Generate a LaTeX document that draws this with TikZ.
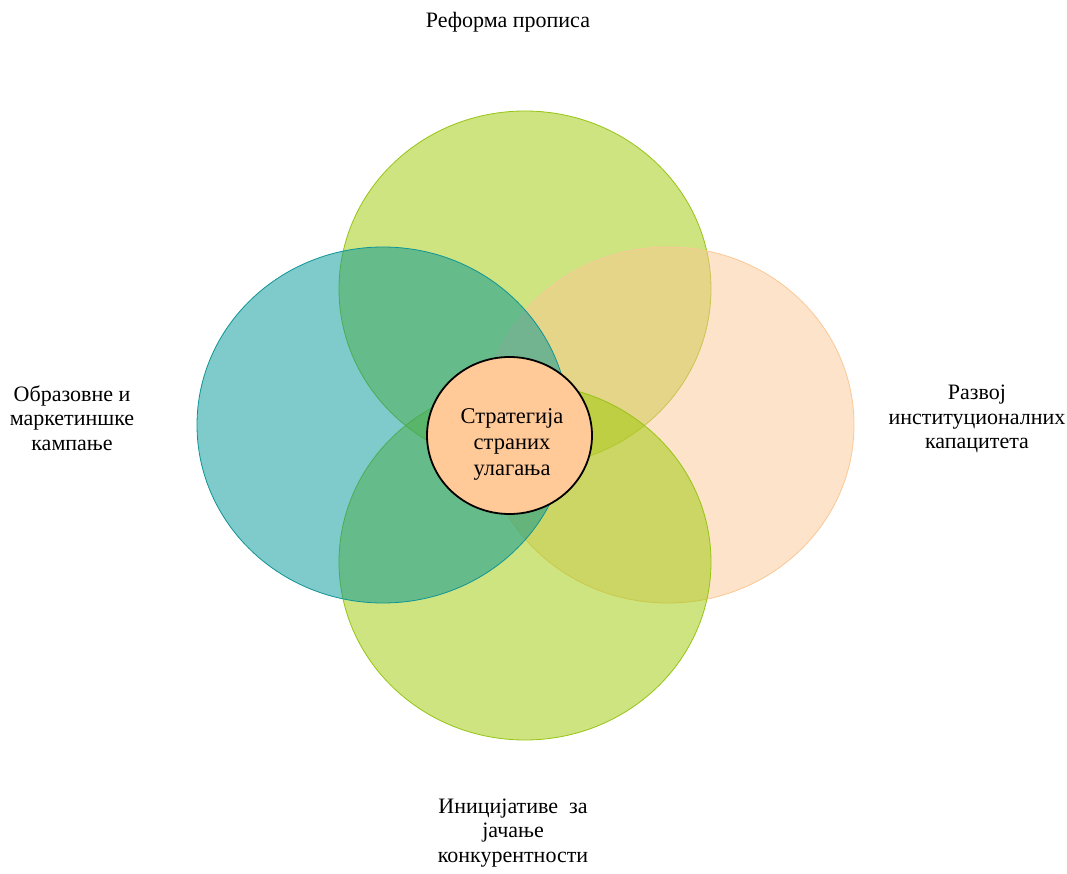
\documentclass[tikz,border=0pt]{standalone}
\usepackage{fontspec}
\setmainfont{Liberation Serif}
\usetikzlibrary{shapes.geometric}

\definecolor{limefill}{RGB}{155,201,1}
\definecolor{limeedge}{RGB}{150,196,20}
\definecolor{tealfill}{RGB}{0,149,149}
\definecolor{tealedge}{RGB}{15,148,150}
\definecolor{peachfill}{RGB}{251,199,147}
\definecolor{peachedge}{RGB}{250,200,150}
\definecolor{corefill}{RGB}{255,201,152}

\tikzset{
  petal/.style={ellipse, minimum width=372pt, minimum height=356pt,
    inner sep=0pt, fill opacity=0.5, line width=0.8pt},
  sidetext/.style={align=center, inner sep=0pt, font=\fontsize{22}{24.5}\selectfont},
}

\begin{document}
\begin{tikzpicture}[x=1pt, y=-1pt]

    \useasboundingbox (0,0) rectangle (1067,874);

    % Petals
    \node[petal, fill=limefill, draw=limeedge] (reform) at (525,289) {};
    \node[petal, fill=peachfill, draw=peachedge] (develop) at (668,425) {};
    \node[petal, fill=limefill, draw=limeedge] (initiative) at (525,562) {};
    \node[petal, fill=tealfill, draw=tealedge] (campaign) at (383,425) {};

    % Core
    \node[ellipse, minimum width=165pt, minimum height=157pt, inner sep=0pt,
      fill=corefill, draw=black, line width=1.8pt] (core) at (509.5,435.5) {};
    \node[align=center, font=\fontsize{22.5}{26}\selectfont] (coretext)
      at (512,444) {Стратегија\\страних\\улагања};

    % Labels
    \node[sidetext] (reformtext) at (508,22) {Реформа прописа};
    \node[sidetext] (campaigntext) at (72,418) {Образовне и\\маркетиншке\\кампање};
    \node[sidetext] (developtext) at (977,419) {Развој\\институционалних\\капацитета};
    \node[sidetext] (initiativetext) at (513,833) {Иницијативе\ \ за\\јачање\\конкурентности};

\end{tikzpicture}
\end{document}
